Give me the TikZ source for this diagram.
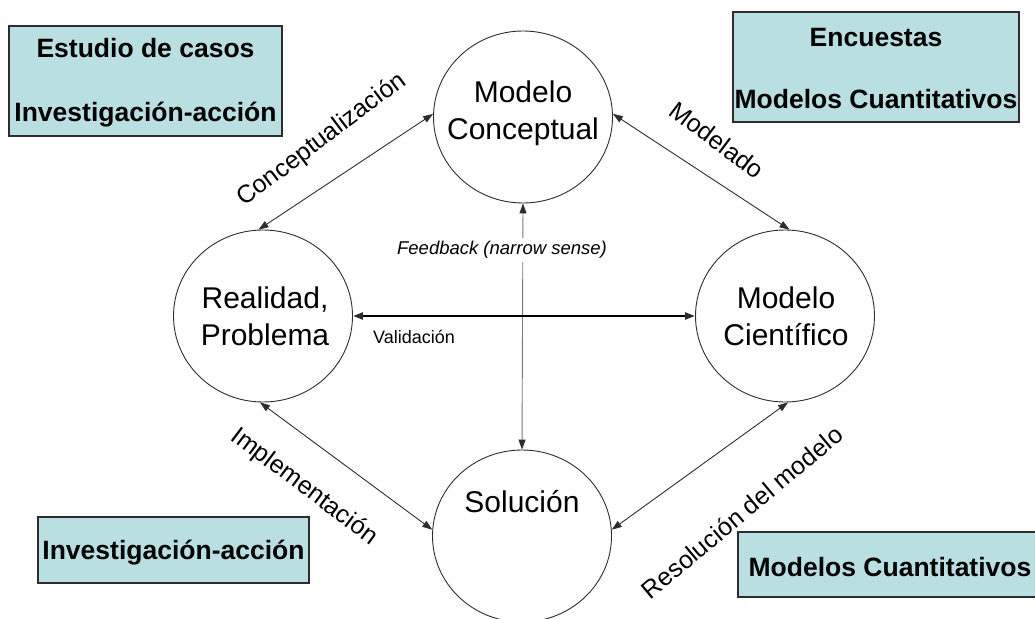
\documentclass[tikz,border=0pt]{standalone}
\usepackage{fontspec}
\setmainfont{Liberation Sans}
\usetikzlibrary{arrows.meta,shapes.geometric}
\definecolor{boxfill}{RGB}{185,223,226}
\definecolor{edge}{RGB}{45,45,45}
\tikzset{
  stage/.style={ellipse, draw=edge, line width=0.9pt, minimum width=179pt, minimum height=172pt, inner sep=0pt},
  stagetext/.style={align=center, font=\fontsize{30}{37}\selectfont},
  methodbox/.style={draw=edge, line width=1.3pt, fill=boxfill},
  methodtext/.style={anchor=base, font=\fontsize{26.5}{30}\selectfont\bfseries},
  link/.style={draw=edge, line width=0.9pt, {Triangle[length=10pt,width=7pt,color=edge]}-{Triangle[length=10pt,width=7pt,color=edge]}},
  linklabel/.style={font=\fontsize{25}{28}\selectfont, inner sep=0pt},
}
\begin{document}
\begin{tikzpicture}[x=1pt,y=-1pt]
\useasboundingbox (0,0) rectangle (1035,618);

% research method boxes
\draw[methodbox] (9,26) rectangle (282,136);
\node[methodtext] at (145.5,58) {Estudio de casos};
\node[methodtext] at (145.5,121) {Investigación-acción};

\draw[methodbox] (733,12) rectangle (1019,122);
\node[methodtext] at (876,47) {Encuestas};
\node[methodtext] at (876,108) {Modelos Cuantitativos};

\draw[methodbox] (38,517) rectangle (309,583);
\node[methodtext] at (173.5,559) {Investigación-acción};

\draw[methodbox] (738,532) rectangle (1045,597);
\node[methodtext] at (890,576) {Modelos Cuantitativos};

% stages of the modelling cycle
\node[stage] (conc) at (523,117) {};
\node[stage] (real) at (263,316) {};
\node[stage] (cient) at (785,316) {};
\node[stage] (sol) at (522,536) {};

\node[stagetext] at (523,113) {Modelo\\Conceptual};
\node[stagetext] at (265,316) {Realidad,\\Problema};
\node[stagetext] at (786,316) {Modelo\\Científico};
\node[stagetext] at (522,502) {Solución};

% feedback (narrow sense)
\draw[link, draw=edge!65] (conc.south) -- (sol.north);
\node[font=\fontsize{18.5}{22}\selectfont\itshape, fill=white, inner sep=3pt] (fb) at (502,250) {Feedback (narrow sense)};

% transitions between stages
\draw[link] (real.93) -- (conc.178);
\draw[link] (conc.2) -- (cient.87);
\draw[link] (real.-92) -- (sol.176);
\draw[link] (cient.-88) -- (sol.4);
\draw[link, draw=black, line width=2.2pt] (real.east) -- (cient.west);

\node[font=\fontsize{18}{22}\selectfont] at (414,337) {Validación};
\node[linklabel, rotate=37] at (322,140) {Conceptualización};
\node[linklabel, rotate=-37] at (717,140) {Modelado};
\node[linklabel, rotate=-37] at (304,487) {Implementación};
\node[linklabel, rotate=40] at (742,512) {Resolución del modelo};
\end{tikzpicture}
\end{document}
